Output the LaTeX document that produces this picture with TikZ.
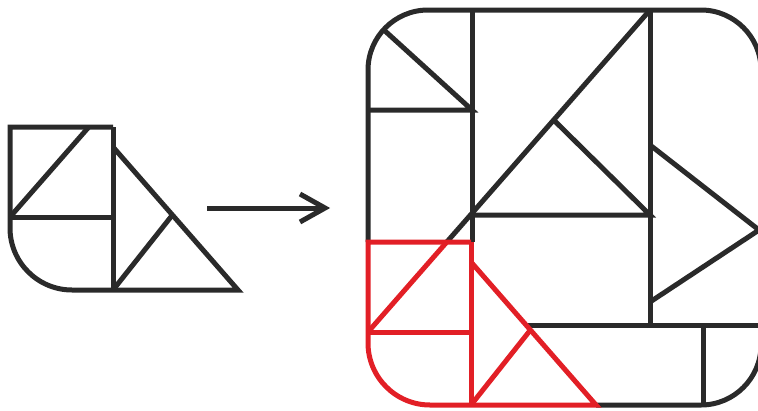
\documentclass[tikz,border=0pt]{standalone}
\usetikzlibrary{calc}
\definecolor{inkdark}{HTML}{2A2A2A}
\definecolor{inkred}{HTML}{E21F26}
\tikzset{
  stroke/.style={line width=5pt, line join=miter},
  piece/.pic={
    \draw[stroke] (113,127) -- (10,127) -- (10,228)
      .. controls (10,262.2) and (37.8,290) .. (72,290) -- (238,290) -- (113,147);
    \draw[stroke] (113,127) -- (113,290);
    \draw[stroke] (10,217) -- (113,217);
    \draw[stroke] (10,217) -- (88.8,127);
    \draw[stroke] (113,290) -- (172.4,215);
  }
}
\begin{document}
\begin{tikzpicture}[x=1pt,y=-1pt]
\useasboundingbox (0,0) rectangle (758,410);
% left piece
\pic[color=inkdark] at (0,0) {piece};
% arrow
\coordinate (arrowStart) at (207,208);
\coordinate (arrowTip) at (325,208);
\draw[stroke, color=inkdark] (arrowStart) -- (arrowTip);
\draw[stroke, color=inkdark] ($(arrowTip)+(-25,-14)$) -- (arrowTip) -- ($(arrowTip)+(-25,14)$);
% right figure, black parts
\begin{scope}[color=inkdark]
\draw[stroke] (368,242) -- (368,70) .. controls (368,36.9) and (394.9,10) .. (428,10)
  -- (701,10) .. controls (734.1,10) and (761,36.9) .. (761,70)
  -- (761,345) .. controls (761,378.1) and (734.1,405) .. (701,405) -- (596,405);
\draw[stroke] (472,10) -- (472,242);
\draw[stroke] (383.6,29.7) -- (472,110) -- (368,110);
\draw[stroke] (446.8,242) -- (650,10);
\draw[stroke] (650,10) -- (650,325);
\draw[stroke] (553.7,120) -- (650,215) -- (470.5,215);
\draw[stroke] (650,145) -- (759,230) -- (650,302);
\draw[stroke] (527,325) -- (761,325);
\draw[stroke] (703,325) -- (703,405);
\end{scope}
% red piece
\pic[color=inkred] at (358,115) {piece};
\end{tikzpicture}
\end{document}
